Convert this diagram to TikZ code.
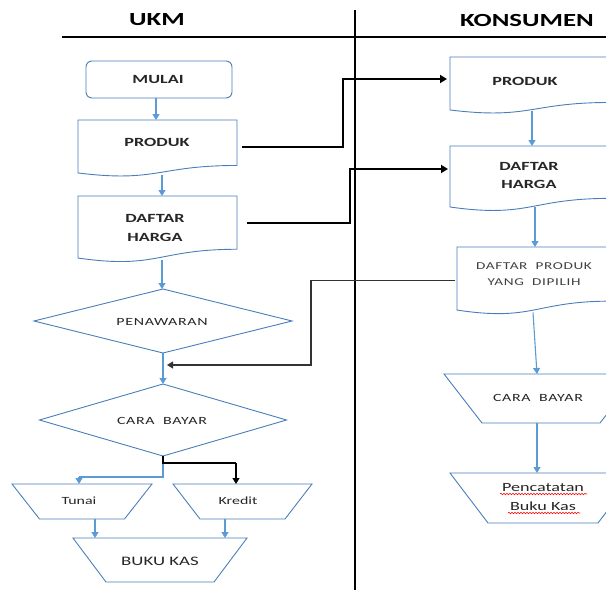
\documentclass[tikz,border=0pt]{standalone}
\usepackage{fontspec}
\setmainfont{Carlito}[FakeStretch=1.45]
\newfontfamily\spacedfont{Carlito}[FakeStretch=1.45,LetterSpace=6]
\usetikzlibrary{arrows.meta,calc,decorations.pathmorphing}
\definecolor{shapeblue}{HTML}{4A7EBB}
\definecolor{arrowblue}{HTML}{5B9BD5}
\definecolor{txt}{HTML}{262626}
\definecolor{greytxt}{HTML}{404040}
\newcommand{\docoutline}[1]{%
  \draw[shapeline] (#1.north west) -- (#1.north east)
    -- ($(#1.north east)!0.802!(#1.south east)$)
    .. controls ($(#1.north)!0.802!(#1.south)$) and ($(#1.north)!1.107!(#1.south)$)
    .. ($(#1.north west)!0.934!(#1.south west)$) -- cycle;}
\newcommand{\trapoutline}[2]{%
  \draw[shapeline] (#1.north west) -- (#1.north east)
    -- ($(#1.south east)+(-#2,0)$) -- ($(#1.south west)+(#2,0)$) -- cycle;}
\newcommand{\diamoutline}[1]{%
  \draw[shapeline] (#1.north) -- (#1.east) -- (#1.south) -- (#1.west) -- cycle;}
\begin{document}
\begin{tikzpicture}[x=1pt,y=-1pt,
  shapeline/.style={draw=shapeblue,line width=0.9pt},
  frame/.style={draw=none,inner sep=0pt,outer sep=0pt},
  flow/.style={draw=arrowblue,line width=1.1pt,-{Triangle[width=7pt,length=6pt]}},
  link/.style={draw=black,line width=1.8pt,-{Triangle[width=8pt,length=7pt]}},
  thinlink/.style={draw=black!80,line width=1.1pt,-{Triangle[width=7pt,length=6pt]}},
  head/.style={inner sep=0pt,font=\fontsize{18.5}{20}\selectfont\bfseries,text=black},
  boldlbl/.style={inner sep=0pt,align=center,text=txt,font=\fontsize{12.5}{19}\selectfont\bfseries},
  lbl/.style={inner sep=0pt,align=center,text=txt,font=\fontsize{11}{16}\selectfont},
  spacedlbl/.style={inner sep=0pt,align=center,text=txt,font=\spacedfont\fontsize{10.5}{16}\selectfont},
  squiggle/.style={draw=red,line width=0.6pt,decorate,decoration={snake,amplitude=0.7pt,segment length=3pt}}
]
\useasboundingbox (0,0) rectangle (606,590);
\clip (0,0) rectangle (606,590);

% headers and lanes
\node[head] (ukm) at (157,20) {UKM};
\node[head] (kons) at (527,20) {KONSUMEN};
\coordinate (hl) at (62,37);
\coordinate (hr) at (606,37);
\draw[line width=1.8pt] (hl) -- (hr);
\coordinate (vt) at (355,10);
\coordinate (vb) at (355,590);
\draw[line width=2.5pt] (vt) -- (vb);

% ---------- UKM column ----------
\node[frame,draw=shapeblue,line width=0.9pt,rounded corners=6pt,minimum width=146,minimum height=37] (mulai) at (159,79.5) {};
\node[boldlbl] (mulait) at (158,79) {MULAI};

\node[frame,minimum width=159,minimum height=56.7] (prodL) at (157.5,148.35) {};
\docoutline{prodL}
\node[boldlbl] (prodLt) at (157,142) {PRODUK};

\node[frame,minimum width=159,minimum height=66.4] (dafL) at (157.5,229.2) {};
\docoutline{dafL}
\node[boldlbl] (dafLt) at (155,227.5) {DAFTAR\\HARGA};

\node[frame,minimum width=258,minimum height=64] (pen) at (163,321) {};
\diamoutline{pen}
\node[spacedlbl,font=\spacedfont\fontsize{11}{16}\selectfont] (pent) at (162,322) {PENAWARAN};

\node[frame,minimum width=247,minimum height=72] (cbL) at (163,420) {};
\diamoutline{cbL}
\node[spacedlbl,font=\spacedfont\fontsize{11}{16}\selectfont] (cbLt) at (162,421) {CARA\ \ BAYAR};

\node[frame,minimum width=140,minimum height=35] (tunai) at (82,501.5) {};
\trapoutline{tunai}{27.5}
\node[lbl] (tunait) at (79,501) {Tunai};

\node[frame,minimum width=139,minimum height=35] (kredit) at (242.5,501.5) {};
\trapoutline{kredit}{27}
\node[lbl] (kreditt) at (238,501) {Kredit};

\node[frame,minimum width=174,minimum height=44] (buku) at (160,560) {};
\trapoutline{buku}{33}
\node[lbl,font=\fontsize{13}{16}\selectfont] (bukut) at (160,561) {BUKU KAS};

% UKM flow arrows
\draw[flow] ($(mulai.south)+(-3,0)$) -- ($(prodL.north)+(-1.5,0)$);
\draw[flow] ($(prodL.south)+(4.5,-1.5)$) -- ($(dafL.north)+(4.5,0)$);
\draw[flow] ($(dafL.south)+(4.5,-2)$) -- ($(pen.north)+(-1,0)$);
\draw[flow] (pen.south) -- (cbL.north);
\coordinate (tunaiin) at (79,477);
\draw[draw=arrowblue,line width=1.1pt] (cbL.south) |- (tunaiin);
\draw[flow] (tunaiin) -- (tunaiin |- tunai.north);
\coordinate (kreditin) at (236,463);
\draw[draw=black,line width=1.1pt] (cbL.south) |- (kreditin);
\draw[thinlink,draw=black] (kreditin) -- (kreditin |- kredit.north);
\draw[flow] ($(tunai.south)+(13,0)$) -- ($(buku.north)+(-65,0)$);
\draw[flow] ($(kredit.south)+(-17.5,0)$) -- ($(buku.north)+(65,0)$);

% ---------- KONSUMEN column ----------
\node[frame,minimum width=160,minimum height=56.7] (prodR) at (530,85.35) {};
\docoutline{prodR}
\node[boldlbl] (prodRt) at (525,81) {PRODUK};

\node[frame,minimum width=160,minimum height=65.3] (dafR) at (530,178.65) {};
\docoutline{dafR}
\node[boldlbl,font=\fontsize{12.5}{18}\selectfont\bfseries] (dafRt) at (529,175) {DAFTAR\\HARGA};

\node[frame,minimum width=154,minimum height=67.5] (dafp) at (534,280.75) {};
\docoutline{dafp}
\node[spacedlbl,text=greytxt] (dafpt) at (534,274) {DAFTAR\ \ PRODUK\\YANG\ \ DIPILIH};

\node[frame,minimum width=194,minimum height=49] (cbR) at (541,398.5) {};
\trapoutline{cbR}{38}
\node[spacedlbl,font=\spacedfont\fontsize{11}{16}\selectfont] (cbRt) at (538,398) {CARA\ \ BAYAR};

\node[frame,minimum width=186,minimum height=50] (pbk) at (543,498) {};
\trapoutline{pbk}{38}
\node[lbl,font=\fontsize{12.5}{19}\selectfont] (pbkt) at (543,497.5) {Pencatatan\\Buku Kas};
\coordinate (sq1a) at (500,494);
\coordinate (sq1b) at (587,494);
\coordinate (sq2a) at (508,513);
\coordinate (sq2b) at (580,513);
\draw[squiggle] (sq1a) -- (sq1b);
\draw[squiggle] (sq2a) -- (sq2b);

% KONSUMEN flow arrows
\draw[flow] ($(prodR.south)+(2,-3)$) -- ($(dafR.north)+(2,0)$);
\draw[flow] ($(dafR.south)+(5,-4)$) -- ($(dafp.north)+(1,0)$);
\draw[flow] ($(dafp.south)+(-1,-2)$) -- ($(cbR.north)+(-4,0)$);
\draw[flow] ($(cbR.south)+(-4,0)$) -- ($(pbk.north)+(-6,0)$);

% cross-lane connectors
\draw[link] ($(prodL.north east)+(5,27)$) -| (343,79) -- ($(prodR.north west)+(-3,22)$);
\draw[link] ($(dafL.north east)+(10,27)$) -| (350,169) -- ($(dafR.north west)+(-2,23)$);
\coordinate (penin) at (167,365);
\draw[thinlink] ($(dafp.west)+(-2,0)$) -| (311,365) -- (penin);
\end{tikzpicture}
\end{document}
